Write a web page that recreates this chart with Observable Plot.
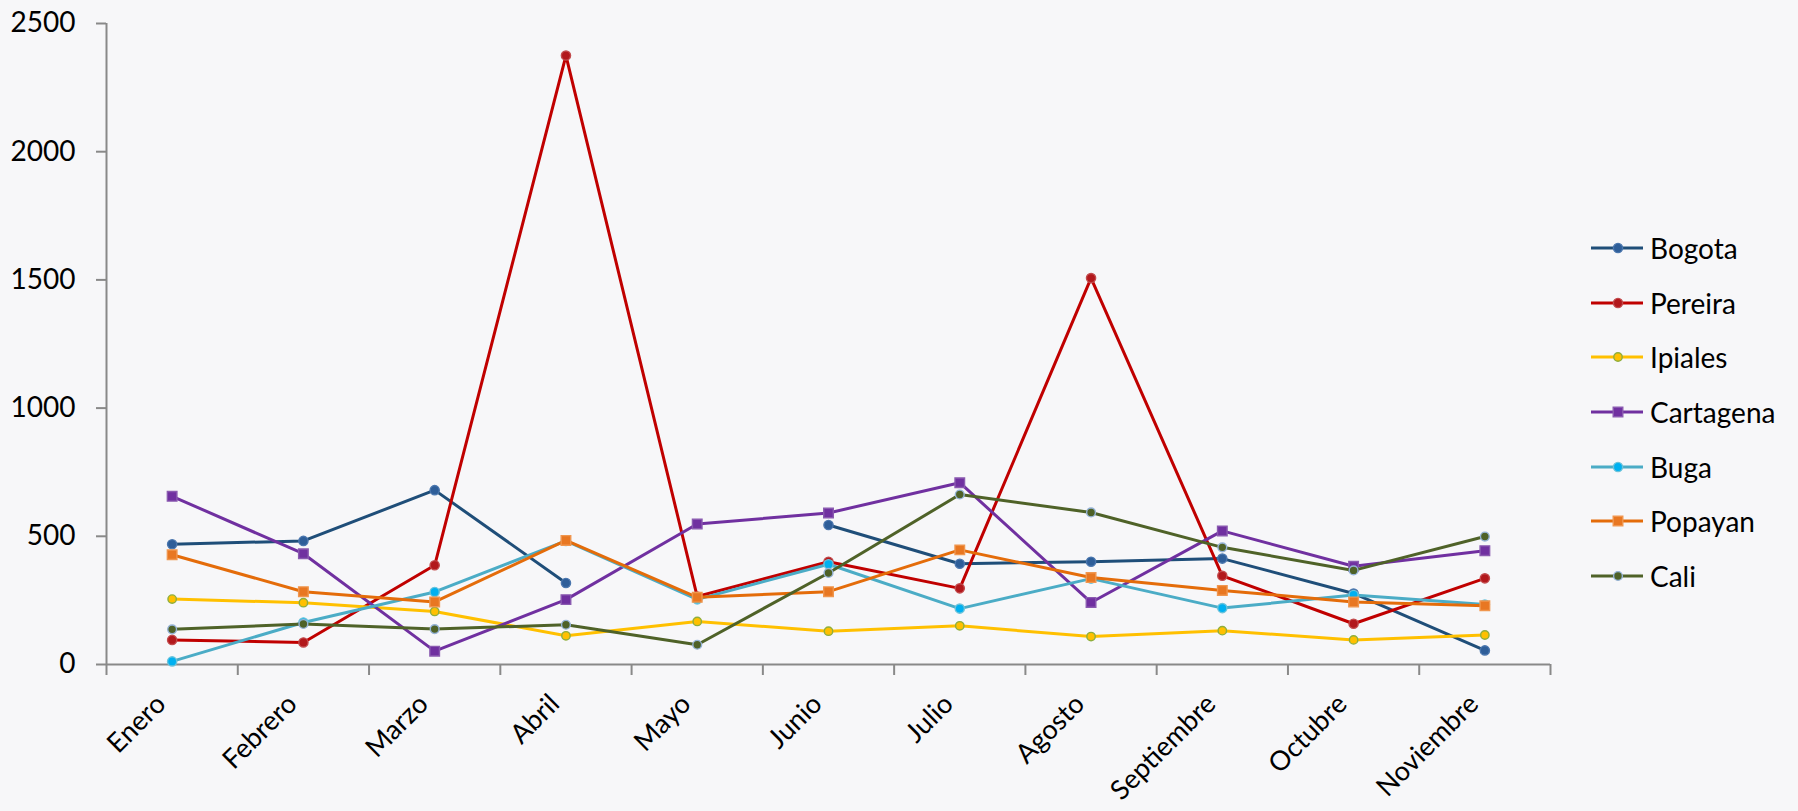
<!DOCTYPE html>
<html>
<head>
<meta charset="utf-8">
<script src="https://cdn.jsdelivr.net/npm/d3@7"></script>
<script src="https://cdn.jsdelivr.net/npm/@observablehq/plot@0.6"></script>
<style>
  html, body { margin: 0; padding: 0; background: #f7f7f9; }
  #wrap { position: relative; width: 1798px; height: 811px; overflow: hidden; font-family: Lato, "Open Sans", sans-serif; }
  #legend { position: absolute; left: 1591px; top: 220.6px; }
  .row { height: 54.7px; display: flex; align-items: center; font-size: 28px; color: #000; }
  .row svg { width: 59px; height: 20px; flex: none; }
</style>
</head>
<body>
<div id="wrap"><div id="chart"></div><div id="legend"></div></div>
<script>
const months = ["Enero","Febrero","Marzo","Abril","Mayo","Junio","Julio","Agosto","Septiembre","Octubre","Noviembre"];
const cities = ["Bogota","Pereira","Ipiales","Cartagena","Buga","Popayan","Cali"];
const bogota    = [469, 482, 680, 318, null, 544, 393, 401, 413, 277, 55];
const pereira   = [96, 86, 387, 2375, 265, 401, 297, 1507, 346, 159, 336];
const ipiales   = [255, 241, 207, 112, 168, 130, 151, 109, 132, 96, 115];
const cartagena = [656, 432, 52, 253, 548, 591, 709, 242, 521, 383, 444];
const buga      = [12, 164, 283, 482, 254, 391, 218, 335, 220, 271, 234];
const popayan   = [428, 284, 244, 484, 262, 284, 447, 339, 289, 244, 229];
const cali      = [137, 158, 138, 155, 77, 357, 663, 593, 457, 367, 499];
const yTicks = [0, 500, 1000, 1500, 2000, 2500];

const styles = {
  Bogota:    {line: "#1F4E79", symbol: "circle", fill: "#2E5E99", stroke: "#4A76AE", r: 4.6},
  Pereira:   {line: "#C00000", symbol: "circle", fill: "#B2181C", stroke: "#C24A4C", r: 4.6},
  Ipiales:   {line: "#FFC000", symbol: "circle", fill: "#FFC000", stroke: "#8FAE3C", r: 4.2},
  Cartagena: {line: "#7030A0", symbol: "square", fill: "#7030A0", stroke: "#8A5AB0", r: 5.4},
  Buga:      {line: "#4BACC6", symbol: "circle", fill: "#00B0F0", stroke: "#6CC3DA", r: 4.6},
  Popayan:   {line: "#E46C0A", symbol: "square", fill: "#E87722", stroke: "#F0964E", r: 5.4},
  Cali:      {line: "#4F6228", symbol: "circle", fill: "#4F6228", stroke: "#95B3D7", r: 4.4}
};
const values = [bogota, pereira, ipiales, cartagena, buga, popayan, cali];

const series = cities.map((c, k) => ({
  name: c,
  rows: months.map((m, i) => ({i, v: values[k][i]}))
}));

const gray = "#898989";
const marks = [];
marks.push(Plot.axisY({ticks: yTicks, tickSize: 10, tickPadding: 21, stroke: gray, strokeWidth: 2, fill: "#000", label: null, tickFormat: d => String(d)}));
marks.push(Plot.axisX({ticks: d3.range(12).map(i => i - 0.5), tickSize: 11, stroke: gray, strokeWidth: 2, tickFormat: () => "", label: null}));
marks.push(Plot.axisX({ticks: d3.range(11), tickSize: 0, tickPadding: 35, dx: -11, tickRotate: -45, fontSize: 27, tickFormat: i => months[i], fill: "#000", label: null}));
marks.push(Plot.ruleX([-0.5], {stroke: gray, strokeWidth: 2}));
marks.push(Plot.ruleY([0], {stroke: gray, strokeWidth: 2}));
for (const s of series) {
  const st = styles[s.name];
  marks.push(Plot.line(s.rows, {x: "i", y: "v", stroke: st.line, strokeWidth: 3, curve: "linear"}));
  const defined = s.rows.filter(d => d.v != null);
  marks.push(Plot.dot(defined, {x: "i", y: "v", symbol: st.symbol, r: st.r, fill: st.fill, stroke: st.stroke, strokeWidth: 1.4}));
  if (s.name === "Cali") {
    marks.push(Plot.dot(defined, {x: "i", y: "v", r: 1.8, fill: "#4F6228"}));
  }
}

const chart = Plot.plot({
  width: 1798,
  height: 811,
  marginLeft: 106,
  marginRight: 248,
  marginTop: 23,
  marginBottom: 147,
  style: {fontFamily: "Lato, 'Open Sans', sans-serif", fontSize: "28px", background: "transparent", color: "#000", overflow: "visible"},
  x: {domain: [-0.5, 10.5], axis: null},
  y: {domain: [0, 2500], axis: null},
  marks
});
document.getElementById("chart").appendChild(chart);

// Legend
const legend = d3.select("#legend");
for (const c of cities) {
  const st = styles[c];
  const row = legend.append("div").attr("class", "row");
  const svg = row.append("svg").attr("viewBox", "0 0 59 20");
  svg.append("line").attr("x1", 0).attr("x2", 52).attr("y1", 10).attr("y2", 10).attr("stroke", st.line).attr("stroke-width", 3);
  if (st.symbol === "square") {
    const s = st.r * Math.sqrt(Math.PI);
    svg.append("rect").attr("x", 27 - s / 2).attr("y", 10 - s / 2).attr("width", s).attr("height", s).attr("fill", st.fill).attr("stroke", st.stroke).attr("stroke-width", 1.4);
  } else {
    svg.append("circle").attr("cx", 27).attr("cy", 10).attr("r", st.r).attr("fill", st.fill).attr("stroke", st.stroke).attr("stroke-width", 1.4);
    if (c === "Cali") svg.append("circle").attr("cx", 27).attr("cy", 10).attr("r", 1.8).attr("fill", "#4F6228");
  }
  row.append("span").text(c);
}
</script>
</body>
</html>
